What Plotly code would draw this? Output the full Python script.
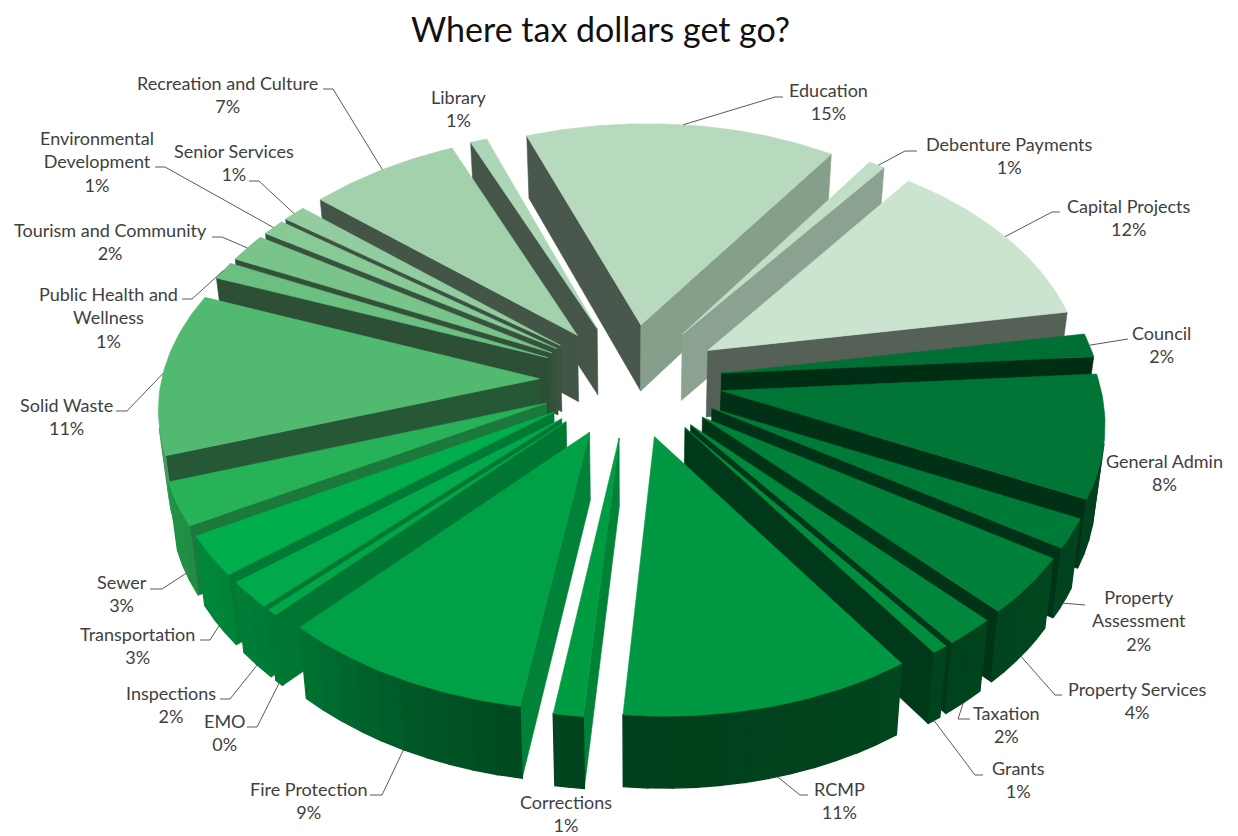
import numpy as np
import plotly.graph_objects as go

# Budget shares, clockwise from the Education slice
categories = ["Education", "Debenture Payments", "Capital Projects", "Council", "General Admin",
              "Property<br>Assessment", "Property Services", "Taxation", "Grants", "RCMP",
              "Corrections", "Fire Protection", "EMO", "Inspections", "Transportation", "Sewer",
              "Solid Waste", "Public Health and<br>Wellness", "Tourism and Community",
              "Environmental<br>Development", "Senior Services", "Recreation and Culture", "Library"]
values = [15.1, 0.8, 12.2, 1.6, 8.3, 2.0, 3.9, 1.9, 0.6, 10.95, 1.1, 9.45, 0.4, 1.8, 2.7, 2.9,
          11.0, 1.2, 1.9, 1.1, 1.1, 7.2, 0.8]
colors = ["#b7dabf", "#c1dfc7", "#cbe4d0", "#006f33", "#007535", "#007a37", "#008039", "#00873b",
          "#008e3d", "#009842", "#009c42", "#00a046", "#00a648", "#00a94a", "#00ae4c", "#27b257",
          "#52ba70", "#6bbf80", "#79c48a", "#88ca96", "#92cc9f", "#a2d1ab", "#acd6b5"]

# Projection of the tilted pie onto the page
START_ANGLE = -21.0
EXPLODE = 0.242
CX, CY = 631.0, 380.0
SCALE_X, SCALE_Y = 378.0, 235.0
PERSPECTIVE = 0.111
THICKNESS = 67.0
DEPTH_DRIFT = 5.0


def project(x, y, z):
    """z=1 is the top face, z=0 the underside."""
    w = 1 - PERSPECTIVE * y
    sx = SCALE_X * x / w
    sy = SCALE_Y * y / w
    lift = 1 - z
    return (CX + DEPTH_DRIFT * y * y + sx * (1 - 0.02 * lift),
            CY + sy + lift * THICKNESS * (1 + 0.06 * y))


def ground(theta, mid, r):
    t, m = np.radians(theta), np.radians(mid)
    return EXPLODE * np.sin(m) + r * np.sin(t), -EXPLODE * np.cos(m) - r * np.cos(t)


def shade(hex_color, f):
    rgb = [int(hex_color[k:k + 2], 16) for k in (1, 3, 5)]
    return "rgb({},{},{})".format(*[int(round(c * f)) for c in rgb])


def signed_area(xs, ys):
    xs, ys = np.asarray(xs), np.asarray(ys)
    return 0.5 * np.sum(xs * np.roll(ys, -1) - np.roll(xs, -1) * ys)


def wall_factor(theta):
    return float(np.interp(theta, [60, 100, 130, 150, 185, 205, 224, 240, 252, 300],
                           [.55, .55, .55, .45, .42, .55, .72, .78, .83, .83]))


def cut_factor(phi):
    return float(np.interp(phi % 360, [90, 123, 142, 155, 162, 170, 250, 360],
                           [.85, .73, .70, .67, .46, .42, .40, .40]))


fig = go.Figure()


def add_poly(xs, ys, color, edge=0.6):
    fig.add_trace(go.Scatter(x=list(xs) + [xs[0]], y=list(ys) + [ys[0]], mode="lines", fill="toself",
                             fillcolor=color, line=dict(color=color, width=edge),
                             hoverinfo="skip", showlegend=False))


total = sum(values)
spans = [v / total * 360 for v in values]
starts = [START_ANGLE + sum(spans[:i]) for i in range(len(values))]


def arc_point(i, frac, z):
    th = starts[i] + frac * spans[i]
    return project(*ground(th, starts[i] + spans[i] / 2, 1.0), z)


def cut_face(i, theta, phi, facing):
    """facing is -1 for a slice's leading cut and +1 for its trailing cut."""
    mid = starts[i] + spans[i] / 2
    pts = [(ground(theta, mid, 0.0), 1), (ground(theta, mid, 1.0), 1),
           (ground(theta, mid, 1.0), 0), (ground(theta, mid, 0.0), 0)]
    xy = [project(p[0], p[1], z) for p, z in pts]
    xs, ys = zip(*xy)
    if signed_area(xs, ys) * facing > 0:
        add_poly(xs, ys, shade(colors[i], cut_factor(phi)))


# Slices are painted from the back of the pie to the front
order = sorted(range(len(values)), key=lambda i: -np.cos(np.radians(starts[i] + spans[i] / 2)))
for i in order:
    s, sp = starts[i], spans[i]
    e, mid = s + sp, s + sp / 2
    cut_face(i, s, s - 90, -1)
    cut_face(i, e, e + 90, 1)
    # outer rim, in strips so its shading runs along the arc
    n = max(1, int(np.ceil(sp / 3.5)))
    edges = np.linspace(s, e, n + 1)
    for a, b in zip(edges[:-1], edges[1:]):
        thetas = np.linspace(a, b, 4)
        upper = [project(*ground(t, mid, 1.0), 1) for t in thetas]
        lower = [project(*ground(t, mid, 1.0), 0) for t in thetas[::-1]]
        xs, ys = zip(*(upper + lower))
        if signed_area(xs, ys) < 0:
            add_poly(xs, ys, shade(colors[i], wall_factor((a + b) / 2 % 360)), edge=1.4)
    # top face
    thetas = np.linspace(s, e, max(3, int(sp) + 2))
    top = [project(*ground(mid, mid, 0.0), 1)] + [project(*ground(t, mid, 1.0), 1) for t in thetas]
    xs, ys = zip(*top)
    add_poly(xs, ys, colors[i])

# Label placement on the page: centre x, first line y
label_pos = {
    "Education": (828, 89), "Debenture Payments": (1009, 143), "Capital Projects": (1129, 205),
    "Council": (1161, 332), "General Admin": (1164, 460), "Property<br>Assessment": (1139, 596),
    "Property Services": (1137, 688), "Taxation": (1006, 712), "Grants": (1018, 767), "RCMP": (839, 788),
    "Corrections": (566, 801), "Fire Protection": (308, 788), "EMO": (225, 720), "Inspections": (171, 692),
    "Transportation": (137, 633), "Sewer": (122, 581), "Solid Waste": (66, 404),
    "Public Health and<br>Wellness": (108, 293), "Tourism and Community": (110, 229),
    "Environmental<br>Development": (97, 137), "Senior Services": (234, 150),
    "Recreation and Culture": (227, 82), "Library": (459, 96),
}

# Leader lines: path from the label, then the spot on the slice's rim (fraction along arc, z)
leaders = {
    "Education": ([(783, 97), (775, 97)], .5, 1),
    "Debenture Payments": ([(917, 151), (905, 151)], .6, 1),
    "Capital Projects": ([(1060, 212), (1052, 212)], .5, 1),
    "Council": ([(1128, 339)], .5, 1),
    "Property<br>Assessment": ([(1085, 605), (1075, 604)], .5, 0),
    "Property Services": ([(1062, 695), (1055, 695)], .5, 0),
    "Taxation": ([(970, 719), (958, 719)], .5, 0),
    "Grants": ([(983, 775), (975, 775)], .5, 0),
    "RCMP": ([(808, 795), (800, 795)], .47, 0),
    "Fire Protection": ([(370, 795), (382, 795)], .5, 0),
    "EMO": ([(247, 727), (257, 727)], .5, 0),
    "Inspections": ([(220, 699), (230, 699)], .5, 0),
    "Transportation": ([(200, 640), (210, 640)], .5, 0),
    "Sewer": ([(150, 589), (162, 589)], .5, 0),
    "Solid Waste": ([(116, 411), (127, 411)], .5, 1),
    "Public Health and<br>Wellness": ([(182, 299), (192, 299)], .5, 1),
    "Tourism and Community": ([(212, 237), (222, 237)], .5, 1),
    "Environmental<br>Development": ([(155, 167), (165, 167)], .5, 1),
    "Senior Services": ([(249, 181), (259, 181)], .5, 1),
    "Recreation and Culture": ([(323, 89), (333, 89)], .5, 1),
}

for name, (path, frac, z) in leaders.items():
    i = categories.index(name)
    end = arc_point(i, frac, z)
    pts = path + [end]
    fig.add_trace(go.Scatter(x=[p[0] for p in pts], y=[p[1] for p in pts], mode="lines",
                             line=dict(color="#595959", width=1), hoverinfo="skip", showlegend=False))

annotations = []
for name, v in zip(categories, values):
    x, y = label_pos[name]
    annotations.append(dict(x=x, y=y - 12, xref="x", yref="y", text=f"{name}<br>{round(v)}%",
                            showarrow=False, xanchor="center", yanchor="top", align="center",
                            font=dict(family="Lato", size=18, color="#404040")))

fig.update_layout(
    width=1238, height=836, margin=dict(l=0, r=0, t=0, b=0),
    paper_bgcolor="white", plot_bgcolor="white",
    xaxis=dict(range=[0, 1238], visible=False, fixedrange=True),
    yaxis=dict(range=[836, 0], visible=False, fixedrange=True),
    annotations=annotations + [dict(x=600, y=28, xref="x", yref="y", text="Where tax dollars get go?",
                                    showarrow=False, font=dict(family="Lato", size=34, color="#111111"))],
)
fig.write_html("out.html")
